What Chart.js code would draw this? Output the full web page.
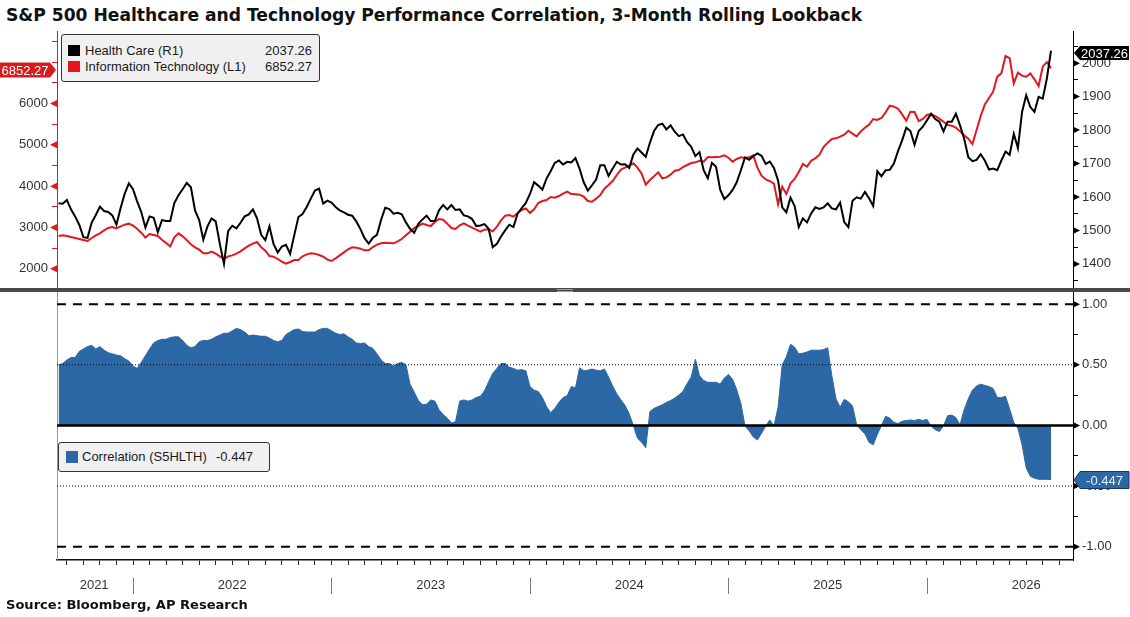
<!DOCTYPE html>
<html>
<head>
<meta charset="utf-8">
<script src="https://cdn.jsdelivr.net/npm/chart.js@4.4.1/dist/chart.umd.min.js"></script>
<style>
  body { margin: 0; background: #fff; overflow: hidden; }
  #page { position: relative; width: 1130px; height: 617px; overflow: hidden; background: #fff;
          font-family: 'Liberation Sans', Arial, sans-serif; color: #1a1a1a; }
  .abs { position: absolute; }
  #title { left: 6px; top: 5px; font: bold 15px 'DejaVu Sans', Verdana, sans-serif; color: #111; white-space: nowrap; }
  #source { left: 6px; top: 597px; font: bold 12.5px 'DejaVu Sans', Verdana, sans-serif; color: #111; white-space: nowrap; }
  #divider { left: 0; top: 288px; width: 1130px; height: 4px; background: #4a4a4a; }
  .grip { left: 557px; width: 16px; height: 1px; background: #9a9a9a; }
  .legend { background: #f0f0f0; border: 1px solid #333; border-radius: 3px; box-sizing: border-box; }
  .row { position: absolute; font-size: 13px; line-height: 16px; white-space: nowrap; color: #1a1a1a; }
  .sq { position: absolute; width: 12px; height: 11px; }
</style>
</head>
<body>
<div id="page">
  <div id="title" class="abs">S&amp;P 500 Healthcare and Technology Performance Correlation, 3-Month Rolling Lookback</div>
  <canvas id="topChart" class="abs" width="1130" height="265" style="left:0;top:25px;width:1130px;height:265px"></canvas>
  <canvas id="bottomChart" class="abs" width="1130" height="331" style="left:0;top:286px;width:1130px;height:331px"></canvas>
  <div id="divider" class="abs"></div>
  <div class="abs grip" style="top:289px"></div>
  <div class="abs grip" style="top:291px"></div>

  <div class="abs legend" style="left:61px;top:34px;width:259px;height:48px"></div>
  <div class="sq" style="left:68px;top:45px;background:#000"></div>
  <div class="row" style="left:85px;top:43px">Health Care (R1)</div>
  <div class="row" id="hcValue" style="left:232px;top:43px;width:80px;text-align:right"></div>
  <div class="sq" style="left:68px;top:61px;background:#e3171d"></div>
  <div class="row" style="left:85px;top:59px">Information Technology (L1)</div>
  <div class="row" id="itValue" style="left:232px;top:59px;width:80px;text-align:right"></div>

  <div class="abs legend" style="left:58px;top:442px;width:212px;height:30px"></div>
  <div class="sq" style="left:66px;top:451px;height:12px;background:#2c68a5"></div>
  <div class="row" style="left:82px;top:449px">Correlation (S5HLTH)</div>
  <div class="row" id="corrValue" style="left:216px;top:449px"></div>

  <div id="source" class="abs">Source: Bloomberg, AP Research</div>
</div>
<script>
// x positions are months counted from 1 Aug 2021
const firstMonth = 'Aug 2021';
const sampleStart = 0.5;   // mid-August 2021
const sampleStep = 0.25;   // about one week

const years = ['2021', '2022', '2023', '2024', '2025', '2026'];
const yearLabelAt = [2.65, 11, 23, 35, 47, 59];
const yearStarts = [5, 17, 29, 41, 53];

// 7000 sits under the last-value tag, so it is kept as a plain tick
const itTicks = [2000, 3000, 4000, 5000, 6000];
const itMinor = [2500, 3500, 4500, 5500, 6500, 7000, 7500];
const hcTicks = [1400, 1500, 1600, 1700, 1800, 1900, 2000];
const hcMinor = [1350, 1450, 1550, 1650, 1750, 1850, 1950, 2050];
const corrTicks = [-1, -0.5, 0, 0.5, 1];
const corrMinor = [-0.75, -0.25, 0.25, 0.75];
const dashedLevels = [1, -1];
const dottedLevels = [0.5, -0.5];

// S&P 500 Health Care (right axis)
const healthCare = [
  1581, 1580, 1591, 1563, 1542, 1517, 1480, 1478, 1523, 1546,
  1571, 1558, 1555, 1545, 1517, 1567, 1610, 1641, 1623, 1587,
  1555, 1509, 1542, 1538, 1495, 1531, 1528, 1528, 1582, 1605,
  1623, 1642, 1629, 1560, 1531, 1472, 1512, 1536, 1527, 1460,
  1400, 1498, 1514, 1506, 1523, 1542, 1548, 1563, 1536, 1487,
  1471, 1512, 1459, 1434, 1452, 1457, 1430, 1486, 1540, 1549,
  1570, 1595, 1619, 1625, 1580, 1589, 1583, 1570, 1560, 1554,
  1547, 1544, 1527, 1504, 1477, 1461, 1478, 1487, 1532, 1568,
  1564, 1550, 1553,
  1548, 1524, 1505, 1493, 1520, 1533, 1544, 1528, 1528, 1560,
  1576, 1563, 1576, 1561, 1563, 1545, 1542, 1534, 1513, 1515,
  1519, 1505, 1450, 1460, 1482, 1500, 1517, 1510, 1550, 1567,
  1582, 1609, 1644, 1634, 1622, 1655, 1677, 1702, 1709, 1697,
  1705, 1703, 1716, 1684, 1644, 1619, 1635, 1652, 1695, 1695,
  1663, 1685, 1705, 1697, 1698, 1687, 1727, 1745, 1733, 1720,
  1762, 1797, 1815, 1819, 1802, 1814, 1795, 1782, 1787, 1764,
  1750, 1722, 1734, 1680, 1656, 1702, 1690, 1622, 1594, 1605,
  1621, 1644, 1680,
  1718, 1711, 1722, 1730, 1723, 1699, 1706, 1687, 1649, 1569,
  1554, 1598, 1573, 1510, 1536, 1524, 1551, 1569, 1564, 1569,
  1581, 1566, 1563, 1583, 1525, 1510, 1589, 1599, 1595, 1615,
  1596, 1573, 1677, 1662, 1680, 1681, 1700, 1737, 1769, 1807,
  1797, 1756, 1797, 1810, 1829, 1849, 1833, 1825, 1796, 1825,
  1825, 1849, 1814, 1774, 1719, 1707, 1711, 1728, 1709, 1682,
  1685, 1680, 1709, 1736, 1726, 1789, 1746, 1854, 1904, 1869,
  1854, 1899, 1894, 1954, 2037.26
];

// S&P 500 Information Technology (left axis)
const infoTech = [
  2793, 2809, 2793, 2769, 2745, 2721, 2697, 2672, 2745, 2809,
  2858, 2930, 2987, 3011, 2979, 3027, 3068, 3092, 3043, 2971,
  2874, 2753, 2842, 2818, 2793, 2705, 2624, 2543, 2761, 2858,
  2785, 2697, 2592, 2519, 2463, 2374, 2374, 2414, 2366, 2301,
  2237, 2301, 2325, 2366, 2422, 2495, 2559, 2608, 2648, 2519,
  2438, 2309, 2293, 2237, 2172, 2124, 2164, 2213, 2213, 2301,
  2350, 2374, 2366, 2334, 2293, 2221, 2188, 2253, 2325, 2398,
  2471, 2519, 2511, 2487, 2447, 2447, 2527, 2584, 2616, 2632,
  2624, 2616, 2664,
  2721, 2809, 2898, 2987, 3035, 3092, 3060, 3035, 3132, 3205,
  3189, 3092, 2987, 2963, 3051, 3100, 3043, 2995, 2947, 2898,
  2947, 2955, 2906, 3019, 3172, 3285, 3302, 3261, 3350, 3423,
  3463, 3350, 3439, 3592, 3640, 3664, 3737, 3721, 3761, 3818,
  3866, 3810, 3802, 3794, 3745, 3640, 3624, 3697, 3786, 3939,
  4028, 4124, 4270, 4399, 4447, 4495, 4552, 4447, 4302, 4036,
  4149, 4237, 4334, 4189, 4213, 4278, 4374, 4391, 4463, 4512,
  4560, 4576, 4616, 4592, 4705, 4697, 4705, 4713, 4746, 4689,
  4592, 4657, 4700,
  4681, 4697, 4746, 4447, 4253, 4165, 4124, 4060, 3560, 3987,
  3810, 4068, 4173, 4342, 4536, 4471, 4616, 4673, 4762, 4947,
  5052, 5141, 5157, 5197, 5246, 5342, 5270, 5205, 5326, 5415,
  5488, 5625, 5601, 5649, 5786, 5947, 5923, 5875, 5738, 5584,
  5802, 5794, 5576, 5625, 5722, 5746, 5697, 5633, 5560, 5480,
  5463, 5415, 5326, 5230, 5149, 5020, 5359, 5697, 5980, 6133,
  6286, 6649, 6730, 7150, 7100, 6488, 6746, 6674, 6649, 6730,
  6585, 6424, 6891, 7004, 6852.27
];

// 3-month rolling correlation (S5HLTH vs S5INFT)
const correlation = [
  0.50, 0.51, 0.54, 0.56, 0.56, 0.61, 0.63, 0.65, 0.66, 0.63,
  0.65, 0.62, 0.60, 0.59, 0.58, 0.575, 0.55, 0.53, 0.49, 0.47,
  0.52, 0.575, 0.63, 0.68, 0.70, 0.71, 0.71, 0.725, 0.73, 0.73,
  0.70, 0.66, 0.64, 0.65, 0.69, 0.70, 0.70, 0.71, 0.73, 0.745,
  0.76, 0.76, 0.78, 0.80, 0.79, 0.77, 0.74, 0.745, 0.74, 0.735,
  0.735, 0.72, 0.70, 0.69, 0.70, 0.75, 0.77, 0.79, 0.795, 0.775,
  0.77, 0.77, 0.77, 0.79, 0.80, 0.80, 0.78, 0.76, 0.75, 0.755,
  0.73, 0.71, 0.68, 0.675, 0.68, 0.65, 0.635, 0.59, 0.54, 0.51,
  0.51, 0.49, 0.51, 0.52, 0.50, 0.34, 0.275, 0.205, 0.17, 0.175,
  0.21, 0.20, 0.13, 0.09, 0.06, 0.02, 0.03, 0.20, 0.21, 0.20,
  0.21, 0.23, 0.24, 0.285, 0.36, 0.43, 0.47, 0.51, 0.51, 0.48,
  0.47, 0.455, 0.46, 0.45, 0.32, 0.29, 0.28, 0.23, 0.155, 0.105,
  0.14, 0.19, 0.23, 0.245,
  0.32, 0.31, 0.475, 0.45, 0.455, 0.465, 0.455, 0.45, 0.465, 0.40,
  0.325, 0.26, 0.21, 0.165, 0.095, 0.00, -0.105, -0.14, -0.185, 0.115,
  0.14, 0.155, 0.17, 0.19, 0.205, 0.225, 0.25, 0.28, 0.345, 0.40,
  0.545, 0.41, 0.37, 0.355, 0.355, 0.355, 0.34, 0.39, 0.42, 0.38,
  0.295, 0.18, -0.005, -0.045, -0.095, -0.12, -0.065, -0.005, 0.045, -0.005,
  0.15, 0.50, 0.565, 0.67, 0.645, 0.59, 0.595, 0.605, 0.62, 0.62,
  0.62, 0.625, 0.64, 0.41, 0.22, 0.15, 0.215, 0.195, 0.16, 0.005,
  -0.035, -0.07, -0.14, -0.16, -0.075, 0.00, 0.075, 0.06, 0.025, 0.015,
  0.035, 0.04, 0.045, 0.04, 0.05, 0.04, 0.05, -0.005, -0.035, -0.05,
  -0.005, 0.08, 0.085, 0.065, 0.005, 0.13, 0.22, 0.29, 0.325, 0.34,
  0.33, 0.32, 0.305, 0.23, 0.23, 0.24, 0.135, 0.025, -0.025, -0.16,
  -0.35, -0.42, -0.435, -0.445, -0.445, -0.445, -0.447
];

const red = '#e3171d';
const blue = '#2c68a5';
const xMin = 0.405;
const xMax = 61.83;
const tickFont = { family: "'Liberation Sans', Arial, sans-serif", size: 13 };

const hcLast = healthCare[healthCare.length - 1];
const itLast = infoTech[infoTech.length - 1];
const corrLast = correlation[correlation.length - 1];

document.getElementById('hcValue').textContent = hcLast.toFixed(2);
document.getElementById('itValue').textContent = itLast.toFixed(2);
document.getElementById('corrValue').textContent = corrLast.toFixed(3);

const toPoints = vals => vals.map((v, i) => ({ x: sampleStart + i * sampleStep, y: v }));
const fixedTicks = vals => axis => {
  axis.ticks = vals.slice().sort((a, b) => a - b).map(v => ({ value: v }));
};
const fitBox = (w, h) => axis => {
  if (w !== null) axis.width = w;
  if (h !== null) axis.height = h;
  axis.paddingTop = 0; axis.paddingBottom = 0;
  axis.paddingLeft = 0; axis.paddingRight = 0;
};

// little arrow heads on the major ticks
const axisMarks = {
  id: 'axisMarks',
  afterDraw(chart, args, opts) {
    const ctx = chart.ctx;
    ctx.save();
    for (const a of opts.axes) {
      const s = chart.scales[a.id];
      const edge = s.position === 'left' ? s.right : s.left;
      const dir = s.position === 'left' ? -1 : 1;
      ctx.fillStyle = a.color;
      for (const v of a.values) {
        const y = s.getPixelForValue(v);
        ctx.beginPath();
        ctx.moveTo(edge, y - 3.5);
        ctx.lineTo(edge + dir * 7, y);
        ctx.lineTo(edge, y + 3.5);
        ctx.closePath();
        ctx.fill();
      }
    }
    ctx.restore();
  }
};

// last value tags on the axes
const badges = {
  id: 'badges',
  afterDraw(chart, args, opts) {
    const ctx = chart.ctx;
    ctx.save();
    ctx.font = "13px 'Liberation Sans', Arial, sans-serif";
    ctx.textAlign = 'center';
    ctx.textBaseline = 'middle';
    for (const b of opts.items) {
      const s = chart.scales[b.axis];
      const y = Math.round(s.getPixelForValue(b.value)) + (b.shift || 0);
      const h = b.height;
      const tip = 6;
      let cx;
      ctx.beginPath();
      if (s.position === 'left') {
        const tipX = s.right - 1, bodyR = tipX - tip, bodyL = 0;
        ctx.moveTo(tipX, y);
        ctx.lineTo(bodyR, y - h / 2);
        ctx.lineTo(bodyL, y - h / 2);
        ctx.lineTo(bodyL, y + h / 2);
        ctx.lineTo(bodyR, y + h / 2);
        cx = (bodyL + bodyR) / 2;
      } else {
        const tipX = s.left + 1, bodyL = tipX + tip, bodyR = chart.width - 1;
        ctx.moveTo(tipX, y);
        ctx.lineTo(bodyL, y - h / 2);
        ctx.lineTo(bodyR, y - h / 2);
        ctx.lineTo(bodyR, y + h / 2);
        ctx.lineTo(bodyL, y + h / 2);
        cx = (bodyL + bodyR) / 2;
      }
      ctx.closePath();
      ctx.fillStyle = b.fill;
      ctx.fill();
      if (b.stroke) {
        ctx.strokeStyle = b.stroke;
        ctx.lineWidth = 1;
        ctx.stroke();
      }
      ctx.fillStyle = b.textColor || '#fff';
      ctx.fillText(b.text, cx, y + 1);
    }
    ctx.restore();
  }
};

const yearSeparators = {
  id: 'yearSeparators',
  afterDraw(chart, args, opts) {
    const s = chart.scales.x;
    const ctx = chart.ctx;
    ctx.save();
    ctx.strokeStyle = '#7a7a7a';
    ctx.lineWidth = 1;
    for (const m of yearStarts) {
      const x = Math.round(s.getPixelForValue(m)) + 0.5;
      ctx.beginPath();
      ctx.moveTo(x, opts.top);
      ctx.lineTo(x, opts.bottom);
      ctx.stroke();
    }
    ctx.restore();
  }
};

new Chart(document.getElementById('topChart'), {
  type: 'line',
  data: {
    datasets: [
      { label: 'Health Care (R1)', data: toPoints(healthCare), yAxisID: 'yR',
        borderColor: '#000', borderWidth: 2, pointRadius: 0 },
      { label: 'Information Technology (L1)', data: toPoints(infoTech), yAxisID: 'yL',
        borderColor: red, borderWidth: 2, pointRadius: 0 }
    ]
  },
  options: {
    responsive: false,
    animation: false,
    events: [],
    layout: { padding: { top: 6, bottom: 2, left: 0, right: 0 } },
    plugins: {
      legend: { display: false },
      tooltip: { enabled: false },
      axisMarks: { axes: [{ id: 'yL', values: itTicks, color: red }, { id: 'yR', values: hcTicks, color: '#000' }] },
      badges: { items: [
        { axis: 'yL', value: itLast, text: itLast.toFixed(2), fill: '#d81b1f', height: 15, shift: 2 },
        { axis: 'yR', value: hcLast, text: hcLast.toFixed(2), fill: '#000', height: 14, shift: 2 }
      ] }
    },
    scales: {
      x: { type: 'linear', display: false, min: xMin, max: xMax, bounds: 'data' },
      yL: {
        position: 'left', min: 1535, max: 7755, bounds: 'data',
        afterBuildTicks: fixedTicks([...itTicks, ...itMinor]),
        afterFit: fitBox(57, null),
        ticks: { autoSkip: false, padding: 4, color: '#333', font: tickFont,
                 callback: v => itTicks.includes(v) ? String(v) : '' },
        grid: { drawOnChartArea: false, tickLength: 5, tickColor: red, tickWidth: 1 },
        border: { color: red, width: 1 }
      },
      yR: {
        position: 'right', min: 1328, max: 2096, bounds: 'data',
        afterBuildTicks: fixedTicks([...hcTicks, ...hcMinor]),
        afterFit: fitBox(57, null),
        ticks: { autoSkip: false, padding: 4, color: '#333', font: tickFont,
                 callback: v => hcTicks.includes(v) ? String(v) : '' },
        grid: { drawOnChartArea: false, tickLength: 5, tickColor: '#000', tickWidth: 1 },
        border: { color: '#000', width: 1 }
      }
    }
  },
  plugins: [axisMarks, badges]
});

const levelLine = (lvl, dash, width) => ({
  data: [{ x: xMin, y: lvl }, { x: xMax, y: lvl }],
  yAxisID: 'yC', borderColor: '#000', borderWidth: width, borderDash: dash,
  pointRadius: 0, fill: false, order: 0
});

const monthTicks = [];
for (let m = Math.ceil(xMin); m <= Math.floor(xMax); m++) monthTicks.push(m);

new Chart(document.getElementById('bottomChart'), {
  type: 'line',
  data: {
    datasets: [
      ...dashedLevels.map(l => levelLine(l, [9, 7], 2)),
      ...dottedLevels.map(l => levelLine(l, [1, 2], 1)),
      levelLine(0, [], 2.5),
      { label: 'Correlation (S5HLTH)', data: toPoints(correlation), yAxisID: 'yC',
        fill: 'origin', backgroundColor: blue, borderColor: blue, borderWidth: 1,
        pointRadius: 0, order: 1 }
    ]
  },
  options: {
    responsive: false,
    animation: false,
    events: [],
    layout: { padding: { top: 6, bottom: 0, left: 0, right: 0 } },
    plugins: {
      legend: { display: false },
      tooltip: { enabled: false },
      axisMarks: { axes: [{ id: 'yC', values: corrTicks, color: '#000' }] },
      badges: { items: [
        { axis: 'yC', value: corrLast, text: corrLast.toFixed(3), fill: blue, stroke: '#1d3a5e',
          textColor: '#e6eef8', height: 17, shift: 0 }
      ] },
      yearSeparators: { top: 292, bottom: 308 }
    },
    scales: {
      x: {
        type: 'linear', position: 'bottom', min: xMin, max: xMax, bounds: 'data', weight: 0,
        afterBuildTicks: fixedTicks(monthTicks),
        afterFit: fitBox(null, 5),
        ticks: { display: false },
        grid: { drawOnChartArea: false, tickLength: 5, tickColor: '#222', tickWidth: 1 },
        border: { color: '#111', width: 1.5 }
      },
      xYear: {
        type: 'linear', position: 'bottom', min: xMin, max: xMax, bounds: 'data', weight: 1,
        afterBuildTicks: fixedTicks(yearLabelAt),
        afterFit: fitBox(null, 52),
        ticks: { autoSkip: false, maxRotation: 0, padding: 13, color: '#333', font: tickFont,
                 callback: (v, i) => years[i] },
        grid: { display: false, drawTicks: false },
        border: { display: false }
      },
      yC: {
        position: 'right', min: -1.11, max: 1.10, bounds: 'data',
        afterBuildTicks: fixedTicks([...corrTicks, ...corrMinor]),
        afterFit: fitBox(57, null),
        ticks: { autoSkip: false, padding: 4, color: '#333', font: tickFont,
                 callback: v => corrTicks.includes(v) ? v.toFixed(2) : '' },
        grid: { drawOnChartArea: false, tickLength: 5, tickColor: '#000', tickWidth: 1 },
        border: { color: '#000', width: 1 }
      },
      yEdge: {
        position: 'left', min: 0, max: 1,
        afterFit: fitBox(57, null),
        ticks: { display: false },
        grid: { display: false },
        border: { color: '#999', width: 1 }
      }
    }
  },
  plugins: [axisMarks, badges, yearSeparators]
});

// stretch the bold headings to the widths they take in the original
function fitWidth(id, target) {
  const el = document.getElementById(id);
  const size = parseFloat(getComputedStyle(el).fontSize);
  const w = el.getBoundingClientRect().width;
  el.style.fontSize = (size * target / w).toFixed(2) + 'px';
}
fitWidth('title', 857);
fitWidth('source', 242);
</script>
</body>
</html>
